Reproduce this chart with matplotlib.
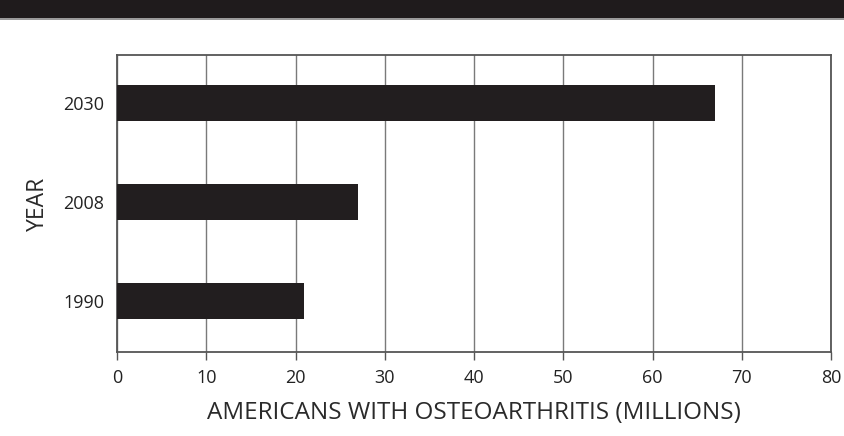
import matplotlib.pyplot as plt
from matplotlib.patches import Rectangle

# Data
years = ['1990', '2008', '2030']
millions = [21, 27, 67]
x_ticks = [0, 10, 20, 30, 40, 50, 60, 70, 80]

plt.rcParams['font.family'] = ['Open Sans', 'DejaVu Sans']

fig = plt.figure(figsize=(8.44, 4.36), dpi=100)
ax = fig.add_axes([117 / 844, 1 - 352 / 436, (831 - 117) / 844, (352 - 55) / 436])

# Dark header band at the top
fig.patches.append(Rectangle((0, 1 - 18 / 436), 1, 18 / 436, transform=fig.transFigure,
                             facecolor='#1f1b1c', edgecolor='none'))
fig.patches.append(Rectangle((0, 1 - 20 / 436), 1, 2 / 436, transform=fig.transFigure,
                             facecolor='#9a9a9a', edgecolor='none'))

pos = range(len(years))
ax.barh(pos, millions, height=0.37, color='#221e1f', zorder=3)

ax.set_xlim(0, 80)
ax.set_ylim(-0.515, 2.485)
ax.set_xticks(x_ticks)
ax.set_xticklabels([str(t) for t in x_ticks], fontsize=13, color='#222222')
ax.set_yticks(list(pos))
ax.set_yticklabels(years, fontsize=13, color='#222222')
ax.tick_params(axis='y', length=0, pad=9)
ax.tick_params(axis='x', length=6, width=1, color='#555555', direction='out', pad=6)

ax.grid(axis='x', color='#7a7a7a', linewidth=1, zorder=1)
for s in ax.spines.values():
    s.set_color('#555555')
    s.set_linewidth(1.3)

ax.set_xlabel('AMERICANS WITH OSTEOARTHRITIS (MILLIONS)', fontsize=17.5,
              color='#2a2a2a', labelpad=10)
ax.set_ylabel('YEAR', fontsize=16.5, color='#2a2a2a', labelpad=10)

fig.savefig('out.png', dpi=100, facecolor='white')
